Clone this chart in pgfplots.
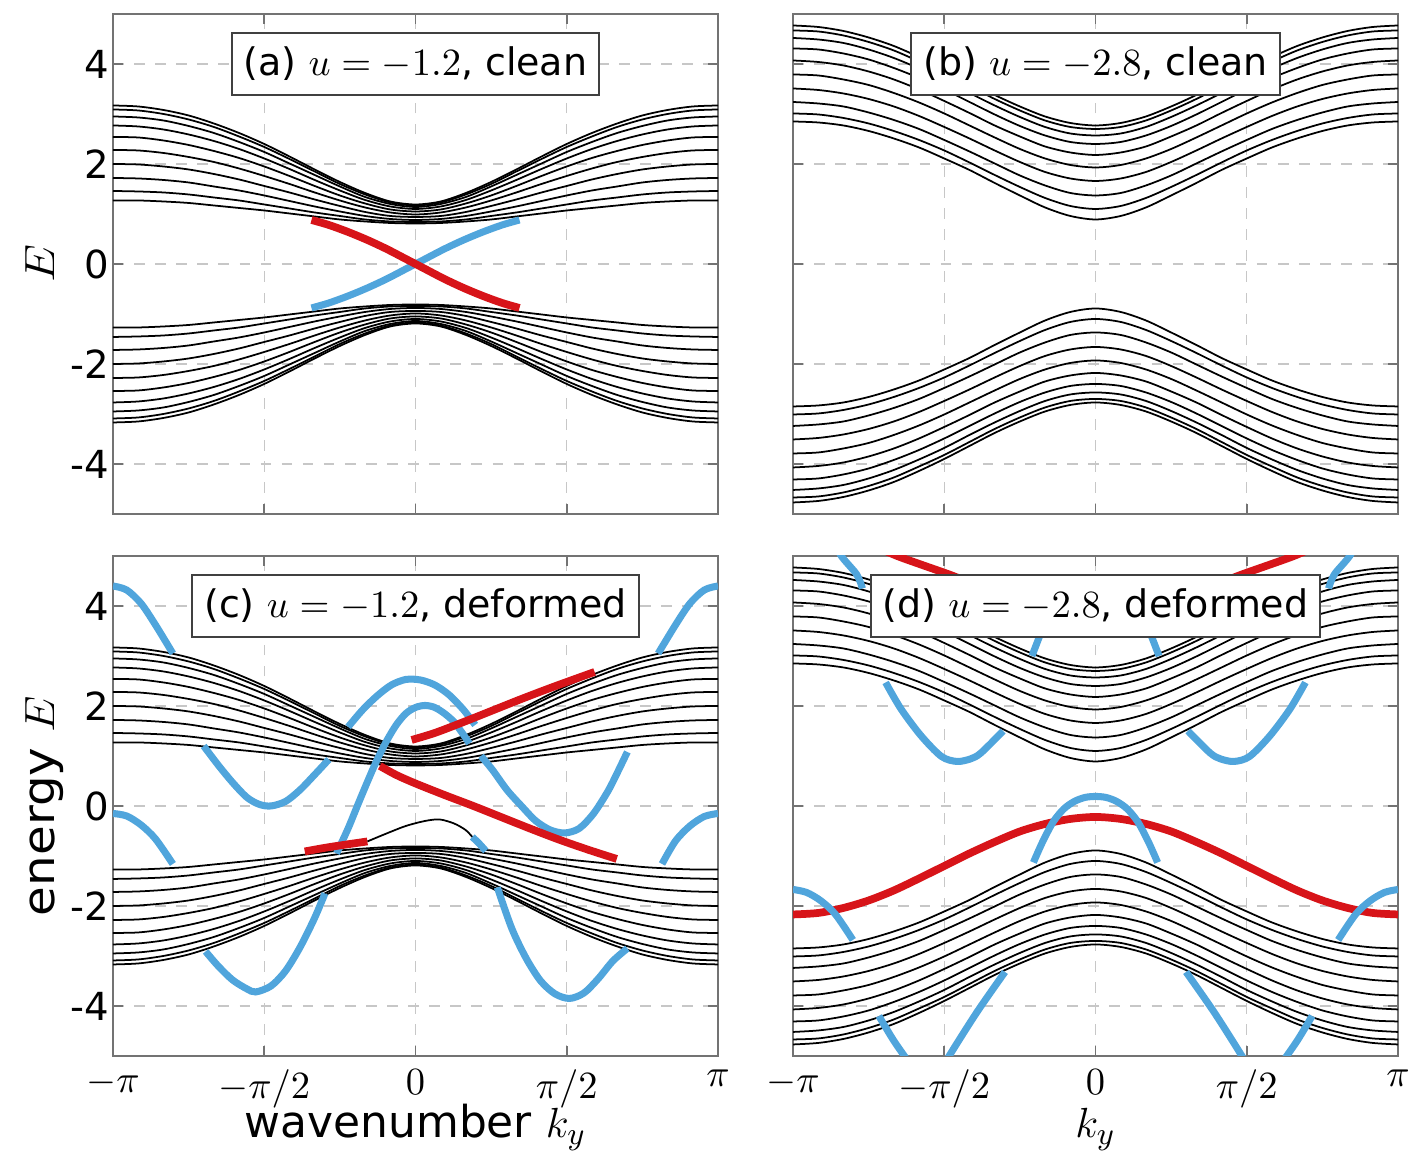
\documentclass[border=0pt]{standalone}
\usepackage{fontspec}
\setmainfont{DejaVu Sans}
\usepackage{graphicx}
\usepackage{pgfplots}
\usepackage{pgfplotstable}
\pgfplotsset{compat=1.18}
\usepgfplotslibrary{groupplots}
\definecolor{eblue}{RGB}{80,165,220}
\definecolor{ered}{RGB}{215,20,25}
\newcommand{\labfont}{\fontsize{12.5}{15}\selectfont}
\tikzset{tbox/.style={draw=black!75, line width=0.6pt, fill=white, inner xsep=1.2mm, inner ysep=1.4mm, font=\fontsize{10.8}{13}\selectfont}}

\pgfplotstableread{
k u1 u2 u3 u4 u5 u6 u7 u8 u9 u10 d1 d2 d3 d4 d5 d6 d7 d8 d9 d10
-3.1416 1.27 1.46 1.72 2.00 2.28 2.54 2.77 2.95 3.09 3.17 -1.27 -1.46 -1.72 -2.00 -2.28 -2.54 -2.77 -2.95 -3.09 -3.17
-2.8798 1.27 1.45 1.71 1.99 2.27 2.53 2.75 2.93 3.07 3.15 -1.27 -1.45 -1.71 -1.99 -2.27 -2.53 -2.75 -2.93 -3.07 -3.15
-2.6180 1.25 1.43 1.68 1.95 2.22 2.47 2.69 2.87 3.00 3.08 -1.25 -1.43 -1.68 -1.95 -2.22 -2.47 -2.69 -2.87 -3.00 -3.08
-2.3562 1.22 1.39 1.63 1.89 2.14 2.38 2.59 2.76 2.89 2.97 -1.22 -1.39 -1.63 -1.89 -2.14 -2.38 -2.59 -2.76 -2.89 -2.97
-2.0944 1.17 1.33 1.55 1.80 2.04 2.26 2.46 2.62 2.74 2.81 -1.17 -1.33 -1.55 -1.80 -2.04 -2.26 -2.46 -2.62 -2.74 -2.81
-1.8326 1.12 1.27 1.47 1.69 1.91 2.12 2.30 2.44 2.55 2.62 -1.12 -1.27 -1.47 -1.69 -1.91 -2.12 -2.30 -2.44 -2.55 -2.62
-1.5708 1.07 1.19 1.37 1.56 1.76 1.95 2.11 2.24 2.34 2.40 -1.07 -1.19 -1.37 -1.56 -1.76 -1.95 -2.11 -2.24 -2.34 -2.40
-1.3090 1.01 1.11 1.26 1.43 1.60 1.76 1.90 2.01 2.10 2.15 -1.01 -1.11 -1.26 -1.43 -1.60 -1.76 -1.90 -2.01 -2.10 -2.15
-1.0472 0.95 1.03 1.15 1.29 1.43 1.56 1.68 1.78 1.85 1.89 -0.95 -1.03 -1.15 -1.29 -1.43 -1.56 -1.68 -1.78 -1.85 -1.89
-0.7854 0.89 0.96 1.05 1.16 1.27 1.37 1.47 1.55 1.60 1.64 -0.89 -0.96 -1.05 -1.16 -1.27 -1.37 -1.47 -1.55 -1.60 -1.64
-0.5236 0.85 0.89 0.96 1.04 1.13 1.21 1.28 1.34 1.39 1.42 -0.85 -0.89 -0.96 -1.04 -1.13 -1.21 -1.28 -1.34 -1.39 -1.42
-0.2618 0.82 0.85 0.90 0.96 1.03 1.09 1.15 1.20 1.23 1.25 -0.82 -0.85 -0.90 -0.96 -1.03 -1.09 -1.15 -1.20 -1.23 -1.25
0.0000 0.81 0.84 0.88 0.94 0.99 1.05 1.10 1.14 1.17 1.19 -0.81 -0.84 -0.88 -0.94 -0.99 -1.05 -1.10 -1.14 -1.17 -1.19
0.2618 0.82 0.85 0.90 0.96 1.03 1.09 1.15 1.20 1.23 1.25 -0.82 -0.85 -0.90 -0.96 -1.03 -1.09 -1.15 -1.20 -1.23 -1.25
0.5236 0.85 0.89 0.96 1.04 1.13 1.21 1.28 1.34 1.39 1.42 -0.85 -0.89 -0.96 -1.04 -1.13 -1.21 -1.28 -1.34 -1.39 -1.42
0.7854 0.89 0.96 1.05 1.16 1.27 1.37 1.47 1.55 1.60 1.64 -0.89 -0.96 -1.05 -1.16 -1.27 -1.37 -1.47 -1.55 -1.60 -1.64
1.0472 0.95 1.03 1.15 1.29 1.43 1.56 1.68 1.78 1.85 1.89 -0.95 -1.03 -1.15 -1.29 -1.43 -1.56 -1.68 -1.78 -1.85 -1.89
1.3090 1.01 1.11 1.26 1.43 1.60 1.76 1.90 2.01 2.10 2.15 -1.01 -1.11 -1.26 -1.43 -1.60 -1.76 -1.90 -2.01 -2.10 -2.15
1.5708 1.07 1.19 1.37 1.56 1.76 1.95 2.11 2.24 2.34 2.40 -1.07 -1.19 -1.37 -1.56 -1.76 -1.95 -2.11 -2.24 -2.34 -2.40
1.8326 1.12 1.27 1.47 1.69 1.91 2.12 2.30 2.44 2.55 2.62 -1.12 -1.27 -1.47 -1.69 -1.91 -2.12 -2.30 -2.44 -2.55 -2.62
2.0944 1.17 1.33 1.55 1.80 2.04 2.26 2.46 2.62 2.74 2.81 -1.17 -1.33 -1.55 -1.80 -2.04 -2.26 -2.46 -2.62 -2.74 -2.81
2.3562 1.22 1.39 1.63 1.89 2.14 2.38 2.59 2.76 2.89 2.97 -1.22 -1.39 -1.63 -1.89 -2.14 -2.38 -2.59 -2.76 -2.89 -2.97
2.6180 1.25 1.43 1.68 1.95 2.22 2.47 2.69 2.87 3.00 3.08 -1.25 -1.43 -1.68 -1.95 -2.22 -2.47 -2.69 -2.87 -3.00 -3.08
2.8798 1.27 1.45 1.71 1.99 2.27 2.53 2.75 2.93 3.07 3.15 -1.27 -1.45 -1.71 -1.99 -2.27 -2.53 -2.75 -2.93 -3.07 -3.15
3.1416 1.27 1.46 1.72 2.00 2.28 2.54 2.77 2.95 3.09 3.17 -1.27 -1.46 -1.72 -2.00 -2.28 -2.54 -2.77 -2.95 -3.09 -3.17
}\tabA

\pgfplotstableread{
k u1 u2 u3 u4 u5 u6 u7 u8 u9 u10 d1 d2 d3 d4 d5 d6 d7 d8 d9 d10
-3.1416 2.85 3.01 3.24 3.51 3.79 4.07 4.31 4.52 4.67 4.77 -2.85 -3.01 -3.24 -3.51 -3.79 -4.07 -4.31 -4.52 -4.67 -4.77
-2.8798 2.83 2.99 3.21 3.48 3.77 4.04 4.29 4.49 4.65 4.74 -2.83 -2.99 -3.21 -3.48 -3.77 -4.04 -4.29 -4.49 -4.65 -4.74
-2.6180 2.77 2.92 3.15 3.41 3.69 3.97 4.21 4.42 4.57 4.66 -2.77 -2.92 -3.15 -3.41 -3.69 -3.97 -4.21 -4.42 -4.57 -4.66
-2.3562 2.66 2.81 3.03 3.30 3.58 3.85 4.09 4.29 4.44 4.53 -2.66 -2.81 -3.03 -3.30 -3.58 -3.85 -4.09 -4.29 -4.44 -4.53
-2.0944 2.51 2.66 2.88 3.15 3.42 3.69 3.92 4.12 4.27 4.36 -2.51 -2.66 -2.88 -3.15 -3.42 -3.69 -3.92 -4.12 -4.27 -4.36
-1.8326 2.33 2.48 2.70 2.96 3.23 3.49 3.72 3.91 4.05 4.14 -2.33 -2.48 -2.70 -2.96 -3.23 -3.49 -3.72 -3.91 -4.05 -4.14
-1.5708 2.11 2.27 2.48 2.74 3.01 3.26 3.49 3.68 3.82 3.90 -2.11 -2.27 -2.48 -2.74 -3.01 -3.26 -3.49 -3.68 -3.82 -3.90
-1.3090 1.88 2.03 2.25 2.51 2.77 3.02 3.24 3.42 3.56 3.64 -1.88 -2.03 -2.25 -2.51 -2.77 -3.02 -3.24 -3.42 -3.56 -3.64
-1.0472 1.62 1.78 2.01 2.27 2.53 2.77 2.99 3.17 3.30 3.38 -1.62 -1.78 -2.01 -2.27 -2.53 -2.77 -2.99 -3.17 -3.30 -3.38
-0.7854 1.37 1.54 1.77 2.04 2.30 2.55 2.76 2.94 3.07 3.15 -1.37 -1.54 -1.77 -2.04 -2.30 -2.55 -2.76 -2.94 -3.07 -3.15
-0.5236 1.13 1.32 1.57 1.84 2.11 2.35 2.57 2.74 2.87 2.95 -1.13 -1.32 -1.57 -1.84 -2.11 -2.35 -2.57 -2.74 -2.87 -2.95
-0.2618 0.96 1.16 1.42 1.71 1.98 2.23 2.44 2.61 2.74 2.82 -0.96 -1.16 -1.42 -1.71 -1.98 -2.23 -2.44 -2.61 -2.74 -2.82
0.0000 0.89 1.10 1.37 1.66 1.93 2.18 2.40 2.57 2.70 2.77 -0.89 -1.10 -1.37 -1.66 -1.93 -2.18 -2.40 -2.57 -2.70 -2.77
0.2618 0.96 1.16 1.42 1.71 1.98 2.23 2.44 2.61 2.74 2.82 -0.96 -1.16 -1.42 -1.71 -1.98 -2.23 -2.44 -2.61 -2.74 -2.82
0.5236 1.13 1.32 1.57 1.84 2.11 2.35 2.57 2.74 2.87 2.95 -1.13 -1.32 -1.57 -1.84 -2.11 -2.35 -2.57 -2.74 -2.87 -2.95
0.7854 1.37 1.54 1.77 2.04 2.30 2.55 2.76 2.94 3.07 3.15 -1.37 -1.54 -1.77 -2.04 -2.30 -2.55 -2.76 -2.94 -3.07 -3.15
1.0472 1.62 1.78 2.01 2.27 2.53 2.77 2.99 3.17 3.30 3.38 -1.62 -1.78 -2.01 -2.27 -2.53 -2.77 -2.99 -3.17 -3.30 -3.38
1.3090 1.88 2.03 2.25 2.51 2.77 3.02 3.24 3.42 3.56 3.64 -1.88 -2.03 -2.25 -2.51 -2.77 -3.02 -3.24 -3.42 -3.56 -3.64
1.5708 2.11 2.27 2.48 2.74 3.01 3.26 3.49 3.68 3.82 3.90 -2.11 -2.27 -2.48 -2.74 -3.01 -3.26 -3.49 -3.68 -3.82 -3.90
1.8326 2.33 2.48 2.70 2.96 3.23 3.49 3.72 3.91 4.05 4.14 -2.33 -2.48 -2.70 -2.96 -3.23 -3.49 -3.72 -3.91 -4.05 -4.14
2.0944 2.51 2.66 2.88 3.15 3.42 3.69 3.92 4.12 4.27 4.36 -2.51 -2.66 -2.88 -3.15 -3.42 -3.69 -3.92 -4.12 -4.27 -4.36
2.3562 2.66 2.81 3.03 3.30 3.58 3.85 4.09 4.29 4.44 4.53 -2.66 -2.81 -3.03 -3.30 -3.58 -3.85 -4.09 -4.29 -4.44 -4.53
2.6180 2.77 2.92 3.15 3.41 3.69 3.97 4.21 4.42 4.57 4.66 -2.77 -2.92 -3.15 -3.41 -3.69 -3.97 -4.21 -4.42 -4.57 -4.66
2.8798 2.83 2.99 3.21 3.48 3.77 4.04 4.29 4.49 4.65 4.74 -2.83 -2.99 -3.21 -3.48 -3.77 -4.04 -4.29 -4.49 -4.65 -4.74
3.1416 2.85 3.01 3.24 3.51 3.79 4.07 4.31 4.52 4.67 4.77 -2.85 -3.01 -3.24 -3.51 -3.79 -4.07 -4.31 -4.52 -4.67 -4.77
}\tabB

\begin{document}
\begin{tikzpicture}
\begin{groupplot}[
  group style={group size=2 by 2, horizontal sep=7.5mm, vertical sep=4.2mm},
  width=60.5mm, height=50mm, scale only axis,
  xmin=-3.14159, xmax=3.14159, ymin=-5, ymax=5,
  xtick={-3.14159,-1.5708,0,1.5708,3.14159},
  ytick={-4,-2,0,2,4},
  grid=major,
  major grid style={dashed, black!22, line width=0.4pt},
  axis line style={black!55, line width=0.6pt},
  tick style={black!55, line width=0.5pt},
  tick align=inside,
  major tick length=1.0mm,
  no markers,
  x tick label style={font=\fontsize{10.8}{13}\selectfont, inner xsep=0pt, inner ysep=1.3mm},
  y tick label style={font=\fontsize{11}{13}\selectfont, inner xsep=0.3mm},
  every axis x label/.style={at={(axis description cs:0.5,-0.164)}, anchor=base, inner sep=0pt},
  every axis y label/.style={at={(axis description cs:-0.096,0.5)}, anchor=base, rotate=90, inner sep=0pt},
  band/.style={black, line width=0.5pt, smooth},
  bl/.style={eblue, line width=2pt, smooth},
  rd/.style={ered, line width=2.2pt, smooth},
  xlabs/.style={xticklabels={$-\pi$,$-\pi/2$,$0$,$\pi/2$,$\pi$}},
  ylabs/.style={yticklabels={-4,-2,0,2,4}},
]
% (a)
\nextgroupplot[ylabs, xticklabels={}, ylabel={\labfont\scalebox{1.15}[1]{$E$}}]
\pgfplotsinvokeforeach{1,...,10}{
  \addplot[band] table[x=k,y=u#1]{\tabA};
  \addplot[band] table[x=k,y=d#1]{\tabA};
}
\addplot[bl] coordinates {(-1.08,-0.88) (-0.9,-0.78) (-0.7,-0.64) (-0.5,-0.48) (-0.3,-0.30) (-0.1,-0.10) (0,0) (0.1,0.10) (0.3,0.30) (0.5,0.48) (0.7,0.64) (0.9,0.78) (1.08,0.88)};
\addplot[rd] coordinates {(-1.08,0.88) (-0.9,0.78) (-0.7,0.64) (-0.5,0.48) (-0.3,0.30) (-0.1,0.10) (0,0) (0.1,-0.10) (0.3,-0.30) (0.5,-0.48) (0.7,-0.64) (0.9,-0.78) (1.08,-0.88)};
\node[tbox] at (axis cs:0,4) {(a) $u=-1.2$, clean};

% (b)
\nextgroupplot[xticklabels={}, yticklabels={}]
\pgfplotsinvokeforeach{1,...,10}{
  \addplot[band] table[x=k,y=u#1]{\tabB};
  \addplot[band] table[x=k,y=d#1]{\tabB};
}
\node[tbox] at (axis cs:0,4) {(b) $u=-2.8$, clean};

% (c)
\nextgroupplot[xlabs, ylabs, ylabel={\labfont\scalebox{1.1}[1]{energy $E$}}, xlabel={\labfont wavenumber $k_y$}]
\pgfplotsinvokeforeach{1,...,10}{
  \addplot[band] table[x=k,y=u#1]{\tabA};
  \addplot[band] table[x=k,y=d#1]{\tabA};
}
\addplot[black, line width=0.5pt, smooth] coordinates {(-0.5,-0.71) (-0.3,-0.55) (-0.1,-0.40) (0.1,-0.30) (0.25,-0.27) (0.4,-0.35) (0.52,-0.48) (0.59,-0.62)};
\addplot[bl] coordinates {(-3.1416,4.40) (-3.0,4.32) (-2.85,4.05) (-2.7,3.62) (-2.52,3.05)};
\addplot[bl] coordinates {(-2.2,1.20) (-2.05,0.82) (-1.9,0.47) (-1.75,0.17) (-1.62,0.03) (-1.5,0.0) (-1.35,0.09) (-1.2,0.32) (-1.05,0.62) (-0.9,0.93)};
\addplot[bl] coordinates {(-0.70,1.58) (-0.55,1.92) (-0.4,2.20) (-0.25,2.42) (-0.1,2.53) (0.05,2.52) (0.2,2.42) (0.35,2.22) (0.5,1.92) (0.62,1.62)};
\addplot[bl] coordinates {(0.68,1.00) (0.8,0.72) (0.95,0.32) (1.1,0.0) (1.25,-0.30) (1.4,-0.48) (1.55,-0.54) (1.7,-0.45) (1.85,-0.15) (2.0,0.30) (2.1,0.68) (2.2,1.08)};
\addplot[bl] coordinates {(2.52,3.05) (2.7,3.62) (2.85,4.05) (3.0,4.32) (3.1416,4.40)};
\addplot[bl] coordinates {(-3.1416,-0.15) (-3.0,-0.20) (-2.85,-0.38) (-2.7,-0.66) (-2.52,-1.16)};
\addplot[bl] coordinates {(-2.18,-2.91) (-2.05,-3.2) (-1.9,-3.48) (-1.75,-3.66) (-1.66,-3.72) (-1.5,-3.60) (-1.35,-3.30) (-1.2,-2.83) (-1.05,-2.25) (-0.94,-1.75)};
\addplot[bl] coordinates {(-0.82,-0.95) (-0.7,-0.45) (-0.6,0.02) (-0.5,0.48) (-0.4,0.92) (-0.3,1.30) (-0.2,1.62) (-0.1,1.85) (0.0,1.97) (0.1,2.01) (0.2,1.97) (0.3,1.85) (0.4,1.68) (0.5,1.42) (0.56,1.25)};
\addplot[bl] coordinates {(0.59,-0.62) (0.66,-0.75) (0.73,-0.90)};
\addplot[bl] coordinates {(0.85,-1.63) (1.0,-2.45) (1.15,-3.05) (1.3,-3.5) (1.45,-3.76) (1.6,-3.85) (1.75,-3.74) (1.9,-3.45) (2.05,-3.1) (2.2,-2.85)};
\addplot[bl] coordinates {(2.56,-1.16) (2.7,-0.70) (2.85,-0.40) (3.0,-0.21) (3.1416,-0.15)};
\addplot[rd] coordinates {(-0.37,0.80) (-0.2,0.62) (0,0.45) (0.3,0.22) (0.6,0.0) (0.9,-0.23) (1.2,-0.46) (1.5,-0.68) (1.8,-0.88) (2.09,-1.06)};
\addplot[rd] coordinates {(-0.04,1.32) (0.2,1.46) (0.5,1.68) (0.8,1.91) (1.1,2.14) (1.4,2.36) (1.7,2.57) (1.86,2.68)};
\addplot[rd] coordinates {(-1.15,-0.91) (-0.95,-0.84) (-0.75,-0.78) (-0.5,-0.71)};
\node[tbox] at (axis cs:0,4) {(c) $u=-1.2$, deformed};

% (d)
\nextgroupplot[xlabs, yticklabels={}, xlabel={\labfont $k_y$}]
\pgfplotsinvokeforeach{1,...,10}{
  \addplot[band] table[x=k,y=u#1]{\tabB};
  \addplot[band] table[x=k,y=d#1]{\tabB};
}
\addplot[rd] coordinates {(-3.1416,-2.17) (-2.8798,-2.14) (-2.6180,-2.04) (-2.3562,-1.89) (-2.0944,-1.69) (-1.8326,-1.45) (-1.5708,-1.20) (-1.3090,-0.95) (-1.0472,-0.72) (-0.7854,-0.51) (-0.5236,-0.36) (-0.2618,-0.26) (0,-0.22) (0.2618,-0.26) (0.5236,-0.36) (0.7854,-0.51) (1.0472,-0.72) (1.3090,-0.95) (1.5708,-1.20) (1.8326,-1.45) (2.0944,-1.69) (2.3562,-1.89) (2.6180,-2.04) (2.8798,-2.14) (3.1416,-2.17)};
\addplot[rd] coordinates {(-2.3,5.2) (-2.06,5.0) (-1.8,4.82) (-1.52,4.63) (-1.2,4.40) (-0.7,4.12) (0,3.95) (0.7,4.12) (1.2,4.40) (1.52,4.63) (1.8,4.82) (2.06,5.0) (2.3,5.2)};
\addplot[bl] coordinates {(-2.75,5.4) (-2.64,5.0) (-2.48,4.63) (-2.42,4.35)};
\addplot[bl] coordinates {(-2.18,2.47) (-2.02,1.94) (-1.81,1.40) (-1.6,0.99) (-1.44,0.89) (-1.3,0.94) (-1.19,1.06) (-0.96,1.50)};
\addplot[bl] coordinates {(-0.66,3.0) (-0.58,3.4) (-0.5,3.8)};
\addplot[bl] coordinates {(2.42,4.35) (2.48,4.63) (2.64,5.0) (2.75,5.4)};
\addplot[bl] coordinates {(0.96,1.50) (1.19,1.06) (1.3,0.94) (1.44,0.89) (1.6,0.99) (1.81,1.40) (2.02,1.94) (2.18,2.47)};
\addplot[bl] coordinates {(0.5,3.8) (0.58,3.4) (0.66,3.0)};
\addplot[bl] coordinates {(-0.645,-1.13) (-0.55,-0.72) (-0.44,-0.32) (-0.33,-0.06) (-0.22,0.09) (-0.11,0.17) (0,0.19) (0.11,0.17) (0.22,0.09) (0.33,-0.06) (0.44,-0.32) (0.55,-0.72) (0.645,-1.13)};
\addplot[bl] coordinates {(-3.1416,-1.67) (-3.0,-1.73) (-2.85,-1.90) (-2.7,-2.17) (-2.52,-2.68)};
\addplot[bl] coordinates {(-2.25,-4.2) (-2.1,-4.68) (-1.95,-5.1) (-1.85,-5.4)};
\addplot[bl] coordinates {(-1.62,-5.35) (-1.52,-5.0) (-1.23,-4.12) (-0.94,-3.32)};
\addplot[bl] coordinates {(0.94,-3.32) (1.23,-4.12) (1.52,-5.0) (1.62,-5.35)};
\addplot[bl] coordinates {(1.85,-5.4) (1.95,-5.1) (2.1,-4.68) (2.25,-4.2)};
\addplot[bl] coordinates {(2.52,-2.68) (2.7,-2.17) (2.85,-1.90) (3.0,-1.73) (3.1416,-1.67)};
\node[tbox] at (axis cs:0,4) {(d) $u=-2.8$, deformed};
\end{groupplot}
\path (group c1r1.north west) ++(-11.3mm,1.4mm) coordinate (TL);
\path (group c2r2.south east) ++(1.3mm,-10.6mm) coordinate (BR);
\pgfresetboundingbox
\path (TL) rectangle (BR);
\end{tikzpicture}
\end{document}
